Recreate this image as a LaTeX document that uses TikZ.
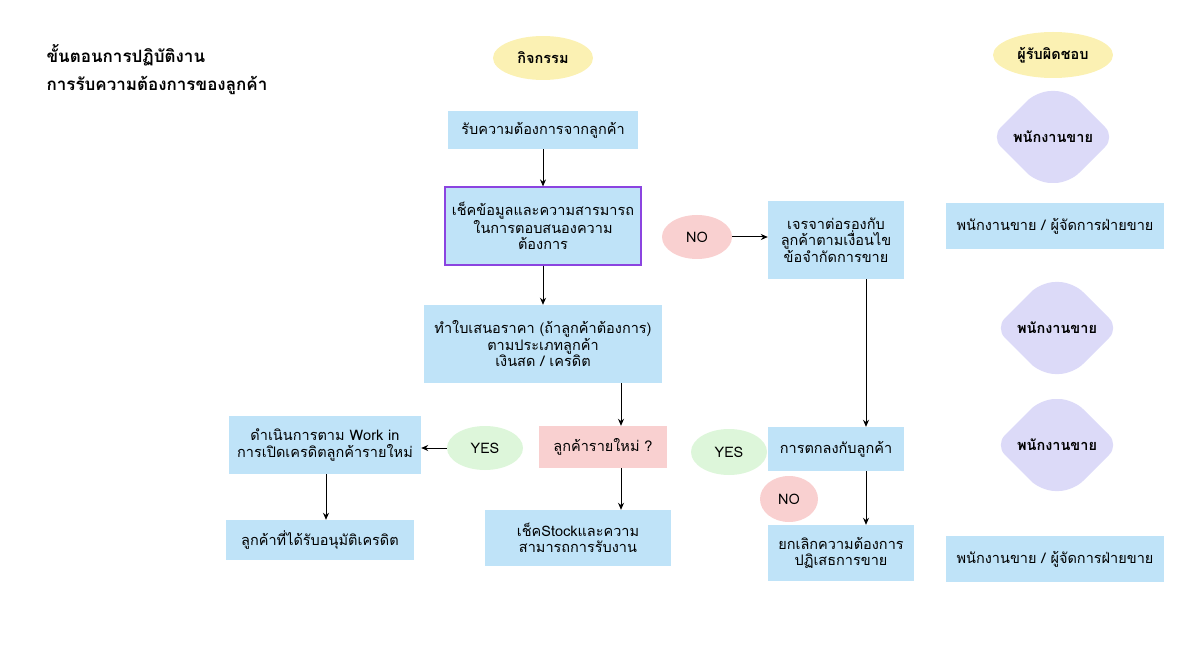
\documentclass[tikz,border=0pt]{standalone}
\usepackage{fontspec}
\setmainfont[Script=Thai]{Loma}
\usetikzlibrary{shapes.geometric,arrows.meta}
\definecolor{bx}{HTML}{BFE3F8}
\definecolor{yel}{HTML}{FBF1B3}
\definecolor{pk}{HTML}{F9D0D0}
\definecolor{gr}{HTML}{DDF6DA}
\definecolor{lav}{HTML}{DCDAF8}
\definecolor{pur}{HTML}{8B44E0}
\tikzset{
 box/.style={fill=bx,draw=none,align=center,inner sep=2pt,font=\fontsize{14.5}{16.5}\selectfont},
 ell/.style={ellipse,fill=#1,draw=none,inner sep=0pt,font=\fontsize{14.5}{16.5}\selectfont},
 arr/.style={-{Stealth[length=7pt,width=6pt]},line width=1pt},
 lbl/.style={font=\fontsize{14.5}{16.5}\selectfont\bfseries}
}
\newcommand{\hexd}[3]{\fill[lav,rounded corners=14pt] (#1-62,#2) -- (#1-16,#2-46) -- (#1+16,#2-46) -- (#1+62,#2) -- (#1+16,#2+46) -- (#1-16,#2+46) -- cycle;
\node[lbl] (#3) at (#1,#2) {พนักงานขาย};}
\begin{document}
\begin{tikzpicture}[x=1pt,y=-1pt]
\useasboundingbox (0,0) rectangle (1180,652);
\node[anchor=west,font=\fontsize{17}{19}\selectfont\bfseries] (t1) at (43,55) {ขั้นตอนการปฏิบัติงาน};
\node[anchor=west,font=\fontsize{17}{19}\selectfont\bfseries] (t2) at (43,85) {การรับความต้องการของลูกค้า};
\node[ell=yel,minimum width=100,minimum height=44,lbl] (h1) at (543,58) {กิจกรรม};
\node[ell=yel,minimum width=120,minimum height=46,lbl] (h2) at (1053,55) {ผู้รับผิดชอบ};
\node[box,minimum width=190,minimum height=38] (b1) at (543,130) {รับความต้องการจากลูกค้า};
\node[box,draw=pur,line width=1.2pt,minimum width=196,minimum height=78] (b2) at (543,226) {เช็คข้อมูลและความสารมารถ\\ในการตอบสนองความ\\ต้องการ};
\node[ell=pk,minimum width=70,minimum height=44] (no1) at (697,237) {NO};
\node[box,minimum width=136,minimum height=78] (b3) at (836,240) {เจรจาต่อรองกับ\\ลูกค้าตามเงื่อนไข\\ข้อจำกัดการขาย};
\hexd{1053}{137}{d1}
\node[box,minimum width=218,minimum height=46] (r1) at (1055,226) {พนักงานขาย / ผู้จัดการฝ่ายขาย};
\node[box,minimum width=238,minimum height=78] (b4) at (543,344) {ทำใบเสนอราคา (ถ้าลูกค้าต้องการ)\\ตามประเภทลูกค้า\\เงินสด / เครดิต};
\hexd{1057}{328}{d2}
\node[box,fill=pk,minimum width=128,minimum height=42] (q) at (603,447) {ลูกค้ารายใหม่ ?};
\node[ell=gr,minimum width=76,minimum height=44] (yes1) at (485,448) {YES};
\node[box,minimum width=192,minimum height=58] (b5) at (325,445) {ดำเนินการตาม Work in\\การเปิดเครดิตลูกค้ารายใหม่};
\node[box,minimum width=188,minimum height=40] (b6) at (320,540) {ลูกค้าที่ได้รับอนุมัติเครดิต};
\node[box,minimum width=186,minimum height=56] (b7) at (578,538) {เช็คStockและความ\\สามารถการรับงาน};
\node[ell=gr,minimum width=76,minimum height=46] (yes2) at (729,452) {YES};
\node[box,minimum width=136,minimum height=44] (b8) at (836,449) {การตกลงกับลูกค้า};
\node[ell=pk,minimum width=58,minimum height=46] (no2) at (789,499) {NO};
\node[box,minimum width=146,minimum height=56] (b9) at (841,553) {ยกเลิกความต้องการ\\ปฏิเสธการขาย};
\hexd{1057}{445}{d3}
\node[box,minimum width=218,minimum height=46] (r2) at (1055,559) {พนักงานขาย / ผู้จัดการฝ่ายขาย};
\draw[arr] (b1) -- (b2);
\draw[arr] (b2) -- (b4);
\draw[arr] (no1.east) -- (no1.east -| b3.west);
\draw[arr] (b3.south -| 866,0) -- (b8.north -| 866,0);
\draw[arr] (b4.south -| 621,0) -- (q.north -| 621,0);
\draw[arr] (q.south -| 621,0) -- (b7.north -| 621,0);
\draw[arr] (yes1.west) -- (yes1.west -| b5.east);
\draw[arr] (b5.south -| 326,0) -- (b6.north -| 326,0);
\draw[arr] (b8.south -| 866,0) -- (b9.north -| 866,0);
\end{tikzpicture}
\end{document}
